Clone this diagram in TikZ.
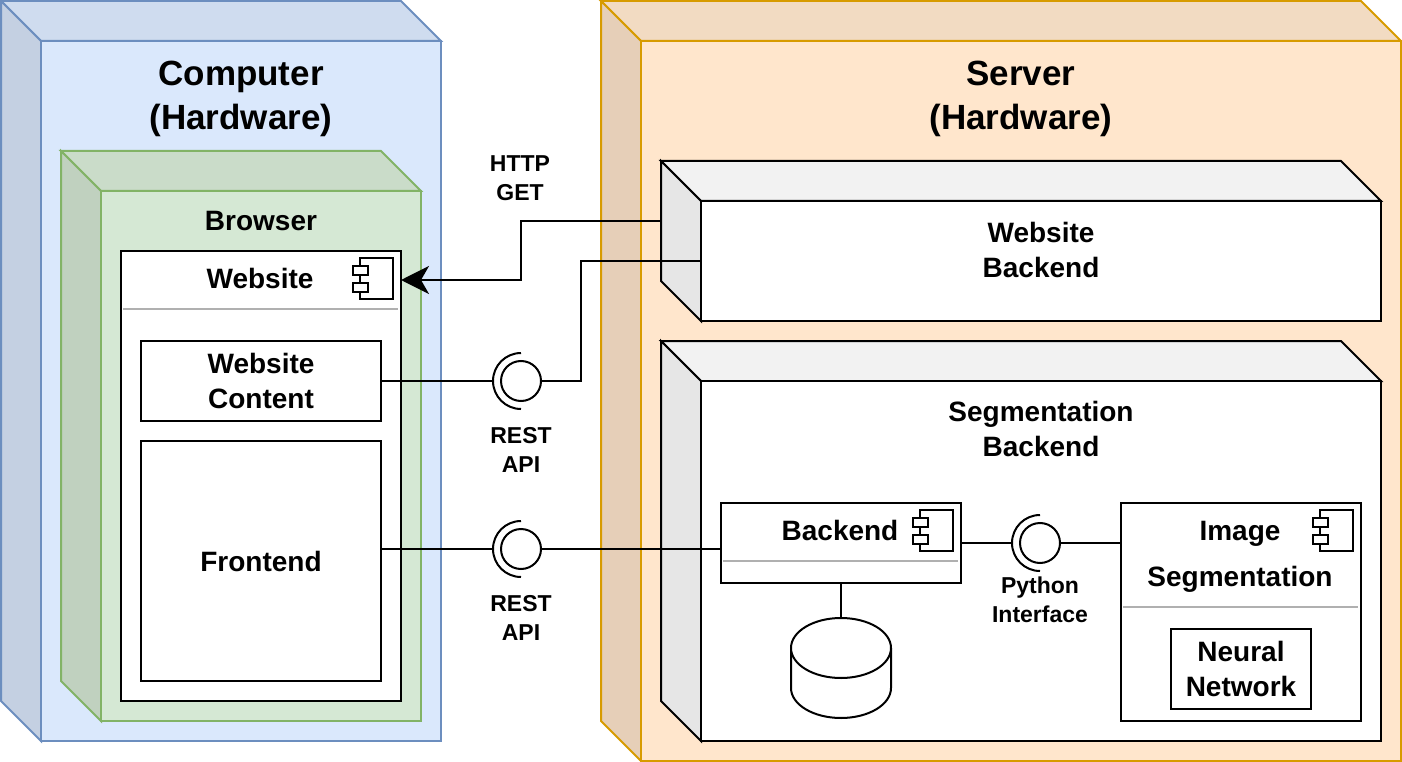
\documentclass[tikz,border=0pt]{standalone}
\usepackage{fontspec}
\setmainfont{Liberation Sans}
\usetikzlibrary{arrows.meta,calc}

% face colours of the deployment cubes
\definecolor{blueFill}{HTML}{DAE8FC}
\definecolor{blueTop}{HTML}{CFDCEF}
\definecolor{blueSide}{HTML}{C4D0E2}
\definecolor{blueLine}{HTML}{6C8EBF}
\definecolor{greenFill}{HTML}{D5E8D4}
\definecolor{greenTop}{HTML}{CADCC9}
\definecolor{greenSide}{HTML}{C0D1BF}
\definecolor{greenLine}{HTML}{82B366}
\definecolor{orangeFill}{HTML}{FFE6CC}
\definecolor{orangeTop}{HTML}{F2DBC2}
\definecolor{orangeSide}{HTML}{E6CFB8}
\definecolor{orangeLine}{HTML}{D79B00}
\definecolor{whiteTop}{HTML}{F2F2F2}
\definecolor{whiteSide}{HTML}{E6E6E6}
\definecolor{dividerGray}{HTML}{B0B0B0}

% top and left faces of a cube: x1, y1, x2, y2, depth, top colour, side colour, stroke
\newcommand{\cubefaces}[8]{%
  \filldraw[fill=#6, draw=#8, line width=2pt, line join=miter]
    (#1,#2) -- ({#3-#5},#2) -- (#3,{#2+#5}) -- ({#1+#5},{#2+#5}) -- cycle;
  \filldraw[fill=#7, draw=#8, line width=2pt, line join=miter]
    (#1,#2) -- ({#1+#5},{#2+#5}) -- ({#1+#5},#4) -- (#1,{#4-#5}) -- cycle;
}

% half-circle socket on the left of a provided interface
\newcommand{\socketarc}[1]{%
  \draw[conn] ($(#1.center)+(0,-28)$)
    .. controls ($(#1.center)+(-15.46,-28)$) and ($(#1.center)+(-28,-15.46)$) .. ($(#1.center)+(-28,0)$)
    .. controls ($(#1.center)+(-28,15.46)$) and ($(#1.center)+(-15.46,28)$) .. ($(#1.center)+(0,28)$);
  \coordinate (#1socket) at ($(#1.center)+(-28,0)$);
}

\begin{document}
\begin{tikzpicture}[x=1pt,y=-1pt,
  front/.style={rectangle, line width=2pt, inner sep=0pt, outer sep=0pt},
  box/.style={rectangle, draw=black, fill=white, line width=2pt, inner sep=0pt, outer sep=0pt},
  area/.style={rectangle, inner sep=0pt, outer sep=0pt},
  title/.style={font=\fontsize{35}{44}\selectfont\bfseries, align=center, inner sep=0pt},
  label/.style={font=\fontsize{28}{35}\selectfont\bfseries, align=center, inner sep=0pt},
  small/.style={font=\fontsize{23}{29.5}\selectfont\bfseries, align=center, inner sep=0pt},
  conn/.style={draw=black, line width=2pt},
  iface/.style={circle, draw=black, line width=2pt, minimum size=40pt, inner sep=0pt, outer sep=0pt},
  divider/.style={draw=dividerGray, line width=2pt},
  compicon/.pic={
    \draw[line width=2pt, fill=white] (-41,7) rectangle (-8,48);
    \draw[line width=2pt, fill=white] (-48,15) rectangle (-33,24);
    \draw[line width=2pt, fill=white] (-48,32) rectangle (-33,41);
  }]
\useasboundingbox (0,0) rectangle (1402,762);

% ---------- client computer ----------
\cubefaces{1}{1}{441}{741}{40}{blueTop}{blueSide}{blueLine}
\node[front, fill=blueFill, draw=blueLine, minimum width=400pt, minimum height=700pt] (computer) at (241,391) {};
\node[title] (computerLabel) at (241,99) {Computer\\(Hardware)};

\cubefaces{61}{151}{421}{721}{40}{greenTop}{greenSide}{greenLine}
\node[front, fill=greenFill, draw=greenLine, minimum width=320pt, minimum height=530pt] (browser) at (261,456) {};
\node[label] (browserLabel) at (261,221) {Browser};

% website component
\node[box, minimum width=280pt, minimum height=450pt] (website) at (261,476) {};
\node[area, minimum width=280pt, minimum height=58pt] (websiteHead) at (261,280) {};
\node[label] (websiteLabel) at (260,278) {Website};
\pic at (websiteHead.north east) {compicon};
\draw[divider] ([xshift=2pt]websiteHead.south west) -- ([xshift=-3pt]websiteHead.south east);

\node[box, label, minimum width=240pt, minimum height=80pt] (content) at (261,381) {Website\\Content};
\node[box, label, minimum width=240pt, minimum height=240pt] (frontend) at (261,561) {Frontend};

% ---------- server ----------
\cubefaces{601}{1}{1401}{761}{40}{orangeTop}{orangeSide}{orangeLine}
\node[front, fill=orangeFill, draw=orangeLine, minimum width=760pt, minimum height=720pt] (server) at (1021,401) {};
\node[title] (serverLabel) at (1021,99) {Server\\(Hardware)};

\cubefaces{661}{161}{1381}{321}{40}{whiteTop}{whiteSide}{black}
\node[front, fill=white, draw=black, minimum width=680pt, minimum height=120pt] (wbFront) at (1041,261) {};
\node[label] (wbLabel) at (1041,250) {Website\\Backend};
\coordinate (httpStart) at (661,221);

\cubefaces{661}{341}{1381}{741}{40}{whiteTop}{whiteSide}{black}
\node[front, fill=white, draw=black, minimum width=680pt, minimum height=360pt] (sbFront) at (1041,561) {};
\node[label] (sbLabel) at (1041,429) {Segmentation\\Backend};

% backend component
\node[box, minimum width=240pt, minimum height=80pt] (backend) at (841,543) {};
\node[area, minimum width=240pt, minimum height=58pt] (backendHead) at (841,532) {};
\node[label] (backendLabel) at (840,530) {Backend};
\pic at (backendHead.north east) {compicon};
\draw[divider] ([xshift=2pt]backendHead.south west) -- ([xshift=-3pt]backendHead.south east);

% image segmentation component
\node[box, minimum width=240pt, minimum height=218pt] (imgseg) at (1241,612) {};
\node[area, minimum width=240pt, minimum height=104pt] (imgsegHead) at (1241,555) {};
\node[label] (imgsegLabel) at (1240,557) {Image\\[11pt]Segmentation};
\pic at (imgsegHead.north east) {compicon};
\draw[divider] ([xshift=2pt]imgsegHead.south west) -- ([xshift=-3pt]imgsegHead.south east);
\node[box, label, minimum width=140pt, minimum height=80pt] (neural) at (1241,669) {Neural\\Network};

% database
\node[area, minimum width=100pt, minimum height=100pt] (db) at (841,668) {};
\fill[white] (791,648) -- (791,688) .. controls (791,704.57) and (813.38,718) .. (841,718)
  .. controls (868.62,718) and (891,704.57) .. (891,688) -- (891,648) -- cycle;
\draw[conn] (791,648) -- (791,688) .. controls (791,704.57) and (813.38,718) .. (841,718)
  .. controls (868.62,718) and (891,704.57) .. (891,688) -- (891,648);
\draw[conn, fill=white] (841,648) ellipse [x radius=50, y radius=30];

% ---------- interfaces ----------
\node[iface] (rest1) at (521,381) {};
\socketarc{rest1}
\node[small] (rest1Label) at (521,450) {REST\\API};

\node[iface] (rest2) at (521,549) {};
\socketarc{rest2}
\node[small] (rest2Label) at (521,618) {REST\\API};

\node[iface] (python) at (1040,543) {};
\socketarc{python}
\node[small] (pythonLabel) at (1040,600) {Python\\Interface};

\node[small] (httpLabel) at (520,178) {HTTP\\GET};

% ---------- connectors ----------
\draw[conn, -{Stealth[length=28pt, width=28pt, inset=8pt]}]
  (httpStart) -- ++(-140,0) |- (websiteHead.east);
\draw[conn] (content.east) -- (rest1socket);
\draw[conn] (rest1.east) -- ++(40,0) |- (wbFront.west);
\draw[conn] (frontend.east |- rest2.center) -- (rest2socket);
\draw[conn] (rest2.east) -- (rest2.east -| backend.west);
\draw[conn] (backend.east |- python.center) -- (pythonsocket);
\draw[conn] (python.east) -- (python.east -| imgseg.west);
\draw[conn] (backend.south) -- (db.north);

\end{tikzpicture}
\end{document}
